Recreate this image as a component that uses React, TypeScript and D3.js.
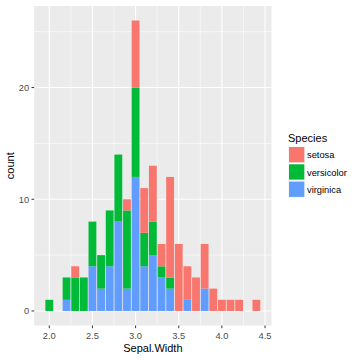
import React from "react";
import * as d3 from "d3";

// bins of width 0.1 centred on 2.0 .. 4.4
const binCenters = d3.range(25).map((i) => +(2.0 + i * 0.1).toFixed(1));
const species = ["setosa", "versicolor", "virginica"];
const colors = ["#F8766D", "#00BA38", "#619CFF"];
const setosa =     [0,0,0,1,0,0,0,0,0,1,6,4,5,2,9,6,3,3,4,2,1,1,1,0,1];
const versicolor = [1,0,2,3,3,4,3,5,6,7,8,3,3,1,1,0,0,0,0,0,0,0,0,0,0];
const virginica =  [0,0,1,0,0,4,2,4,8,2,12,4,5,3,2,0,1,0,2,0,0,0,0,0,0];
const xTicks = [2.0, 2.5, 3.0, 3.5, 4.0, 4.5];
const yTicks = [0, 10, 20];

export default function App() {
  const W = 360, H = 360;
  const left = 34.2, right = 271.5, top = 6, bottom = 325.5;
  const bw = 0.1;
  const x0 = 2.0 - bw / 2, x1 = 4.4 + bw / 2;
  const ex = (x1 - x0) * 0.05;
  const x = d3.scaleLinear().domain([x0 - ex, x1 + ex]).range([left, right]);
  const ymax = 26;
  const y = d3.scaleLinear().domain([-ymax * 0.05, ymax * 1.05]).range([bottom, top]);
  const font = "'Liberation Sans', Arial, sans-serif";

  const rows = binCenters.map((c, i) => ({ c, setosa: setosa[i], versicolor: versicolor[i], virginica: virginica[i] }));
  const stack = d3.stack<any>().keys(["virginica", "versicolor", "setosa"])(rows);
  const colorOf: Record<string, string> = { setosa: colors[0], versicolor: colors[1], virginica: colors[2] };

  const minorX = [2.25, 2.75, 3.25, 3.75, 4.25];
  const minorY = [5, 15, 25];

  return (
    <svg width={W} height={H} style={{ position: "absolute", left: 0, top: 0, background: "#fff" }} fontFamily={font}>
      <rect x={left} y={top} width={right - left} height={bottom - top} fill="#EBEBEB" />
      {minorX.map((v) => (
        <line key={"mx" + v} x1={x(v)} x2={x(v)} y1={top} y2={bottom} stroke="#fff" strokeWidth={0.55} />
      ))}
      {minorY.map((v) => (
        <line key={"my" + v} x1={left} x2={right} y1={y(v)} y2={y(v)} stroke="#fff" strokeWidth={0.55} />
      ))}
      {xTicks.map((v) => (
        <line key={"gx" + v} x1={x(v)} x2={x(v)} y1={top} y2={bottom} stroke="#fff" strokeWidth={1.1} />
      ))}
      {yTicks.map((v) => (
        <line key={"gy" + v} x1={left} x2={right} y1={y(v)} y2={y(v)} stroke="#fff" strokeWidth={1.1} />
      ))}
      {stack.map((layer) =>
        layer.map((d, i) => {
          if (d[1] - d[0] <= 0) return null;
          const c = binCenters[i];
          const xa = x(c - bw / 2), xb = x(c + bw / 2);
          return (
            <rect
              key={layer.key + i}
              x={xa + 0.4}
              width={xb - xa - 0.8}
              y={y(d[1])}
              height={y(d[0]) - y(d[1])}
              fill={colorOf[layer.key as string]}
            />
          );
        })
      )}
      {xTicks.map((v) => (
        <g key={"tx" + v}>
          <line x1={x(v)} x2={x(v)} y1={bottom} y2={bottom + 2.7} stroke="#333" strokeWidth={1} />
          <text x={x(v)} y={bottom + 13} textAnchor="middle" fontSize={9.3} fill="#4D4D4D">
            {v.toFixed(1)}
          </text>
        </g>
      ))}
      {yTicks.map((v) => (
        <g key={"ty" + v}>
          <line x1={left - 2.7} x2={left} y1={y(v)} y2={y(v)} stroke="#333" strokeWidth={1} />
          <text x={left - 5} y={y(v) + 3.3} textAnchor="end" fontSize={9.3} fill="#4D4D4D">
            {v}
          </text>
        </g>
      ))}
      <text x={(left + right) / 2} y={352} textAnchor="middle" fontSize={11} fill="#000">
        Sepal.Width
      </text>
      <text transform={`translate(14,${(top + bottom) / 2}) rotate(-90)`} textAnchor="middle" fontSize={11} fill="#000">
        count
      </text>
      <text x={288} y={142} fontSize={11} fill="#000">Species</text>
      {species.map((s, i) => (
        <g key={s}>
          <rect x={288.5} y={146.5 + i * 17.3} width={16.3} height={16.3} fill="#F2F2F2" />
          <rect x={289} y={147 + i * 17.3} width={15.3} height={15.3} fill={colors[i]} />
          <text x={307} y={158.3 + i * 17.3} fontSize={9.3} fill="#000">{s}</text>
        </g>
      ))}
    </svg>
  );
}
